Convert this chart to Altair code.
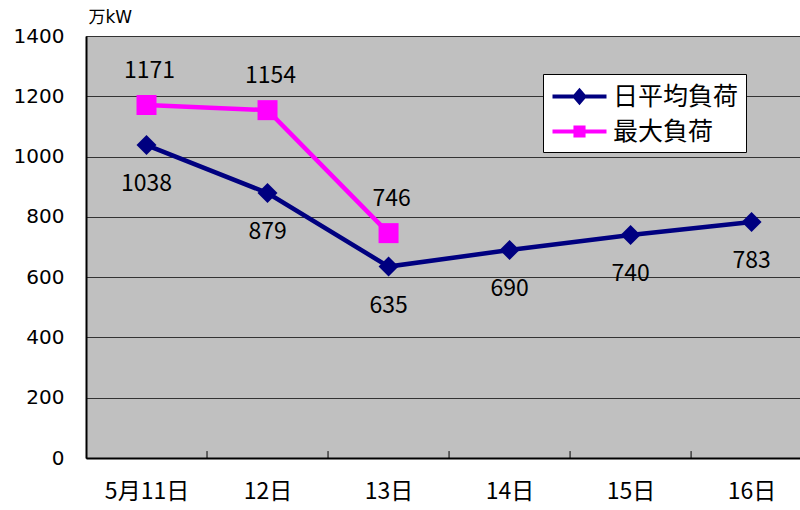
import json
import altair as alt
import pandas as pd

categories = ["5月11日", "12日", "13日", "14日", "15日", "16日"]
avg_load = [1038, 879, 635, 690, 740, 783]
max_load = [1171, 1154, 746]
series_names = ["日平均負荷", "最大負荷"]
series_colors = ["#000080", "#FF00FF"]
series_shapes = ["diamond", "square"]
y_ticks = [0, 200, 400, 600, 800, 1000, 1200, 1400]
y_unit = "万kW"

rows = []
for i, v in enumerate(avg_load):
    rows.append({"idx": i, "day": categories[i], "series": series_names[0], "value": v})
for i, v in enumerate(max_load):
    rows.append({"idx": i, "day": categories[i], "series": series_names[1], "value": v})
df = pd.DataFrame(rows)
bounds = pd.DataFrame({"b": [i + 0.5 for i in range(len(categories) - 1)]})

FONT = "DejaVu Sans, Noto Sans CJK JP"
CJK = "Noto Sans CJK JP"
label_expr = f"{json.dumps(categories, ensure_ascii=False)}[datum.value]"

x_scale = alt.Scale(domain=[-0.5, len(categories) - 0.6], nice=False, zero=False)
y_scale = alt.Scale(domain=[0, 1400], nice=False)
color_scale = alt.Scale(domain=series_names, range=series_colors)

# legend symbols: line segment with a marker in the middle
sym_avg = "M-2,0H2M0,-0.42L0.36,0L0,0.42L-0.36,0Z"
sym_max = "M-2,0H2M-0.3,-0.3H0.3V0.3H-0.3Z"
legend_shape_scale = alt.Scale(domain=series_names, range=[sym_avg, sym_max])

x_axis = alt.Axis(values=list(range(len(categories))), labelExpr=label_expr, ticks=False,
                  grid=False, title=None, domainColor="black", domainWidth=2,
                  labelFont=CJK, labelFontSize=23, labelPadding=22, labelColor="black")
y_axis = alt.Axis(values=y_ticks, format="d", ticks=False, grid=True, gridColor="#333333",
                  gridWidth=1, domainColor="black", domainWidth=2, labelFont=FONT,
                  labelFontSize=20, labelPadding=22, labelColor="black",
                  title=y_unit, titleAngle=0, titleAlign="left", titleBaseline="bottom",
                  titleX=2, titleY=-10, titleFont=FONT, titleFontSize=17,
                  titleFontWeight="normal", titleColor="black")

x_enc = alt.X("idx:Q", scale=x_scale, axis=x_axis)
y_enc = alt.Y("value:Q", scale=y_scale, axis=y_axis)

legend = alt.Legend(
    title=None, orient="none", legendX=457, legendY=38,
    fillColor="white", strokeColor="black",
    padding=7, labelFont=CJK, labelFontSize=25, labelColor="black",
    symbolSize=729, symbolStrokeWidth=4, symbolOpacity=1,
    symbolOffset=14, labelOffset=18, rowPadding=5,
)

ticks = alt.Chart(bounds).mark_rule(color="black", strokeWidth=1).encode(
    x=alt.X("b:Q", scale=x_scale, axis=x_axis),
    y=alt.datum(0, scale=y_scale, axis=y_axis),
    y2=alt.datum(23),
)

series_layers = []
for name, col in zip(series_names, series_colors):
    base = alt.Chart(df).transform_filter(alt.datum.series == name)
    series_layers.append(
        base.mark_line(strokeWidth=4.5, color=col).encode(x=x_enc, y=y_enc, order="idx:Q")
    )
for name, col, shp in zip(series_names, series_colors, series_shapes):
    base = alt.Chart(df).transform_filter(alt.datum.series == name)
    series_layers.append(
        base.mark_point(filled=True, size=400, opacity=1, shape=shp, color=col)
        .encode(x=x_enc, y=y_enc)
    )

legend_layer = alt.Chart(df).transform_filter("false").mark_point(
    filled=True, strokeWidth=4
).encode(
    x=x_enc, y=y_enc,
    color=alt.Color("series:N", scale=color_scale, legend=legend),
    stroke=alt.Stroke("series:N", scale=color_scale, legend=legend),
    shape=alt.Shape("series:N", scale=legend_shape_scale, legend=legend),
)

text_avg = alt.Chart(df).transform_filter(
    alt.datum.series == series_names[0]
).mark_text(dy=39, font=CJK, fontSize=23, color="black").encode(
    x=x_enc, y=y_enc, text="value:Q"
)
text_max = alt.Chart(df).transform_filter(
    alt.datum.series == series_names[1]
).mark_text(dy=-34, dx=3, font=CJK, fontSize=23, color="black").encode(
    x=x_enc, y=y_enc, text="value:Q"
)

chart = alt.layer(ticks, *series_layers, text_avg, text_max, legend_layer).properties(
    width=714, height=422,
    padding={"left": 86, "top": 36, "right": 0, "bottom": 52},
    autosize=alt.AutoSizeParams(type="none"),
    background="white",
).configure_view(fill="#C0C0C0", stroke="#404040", strokeWidth=1)

chart.save("out.html", embed_options={"renderer": "svg", "actions": False})
